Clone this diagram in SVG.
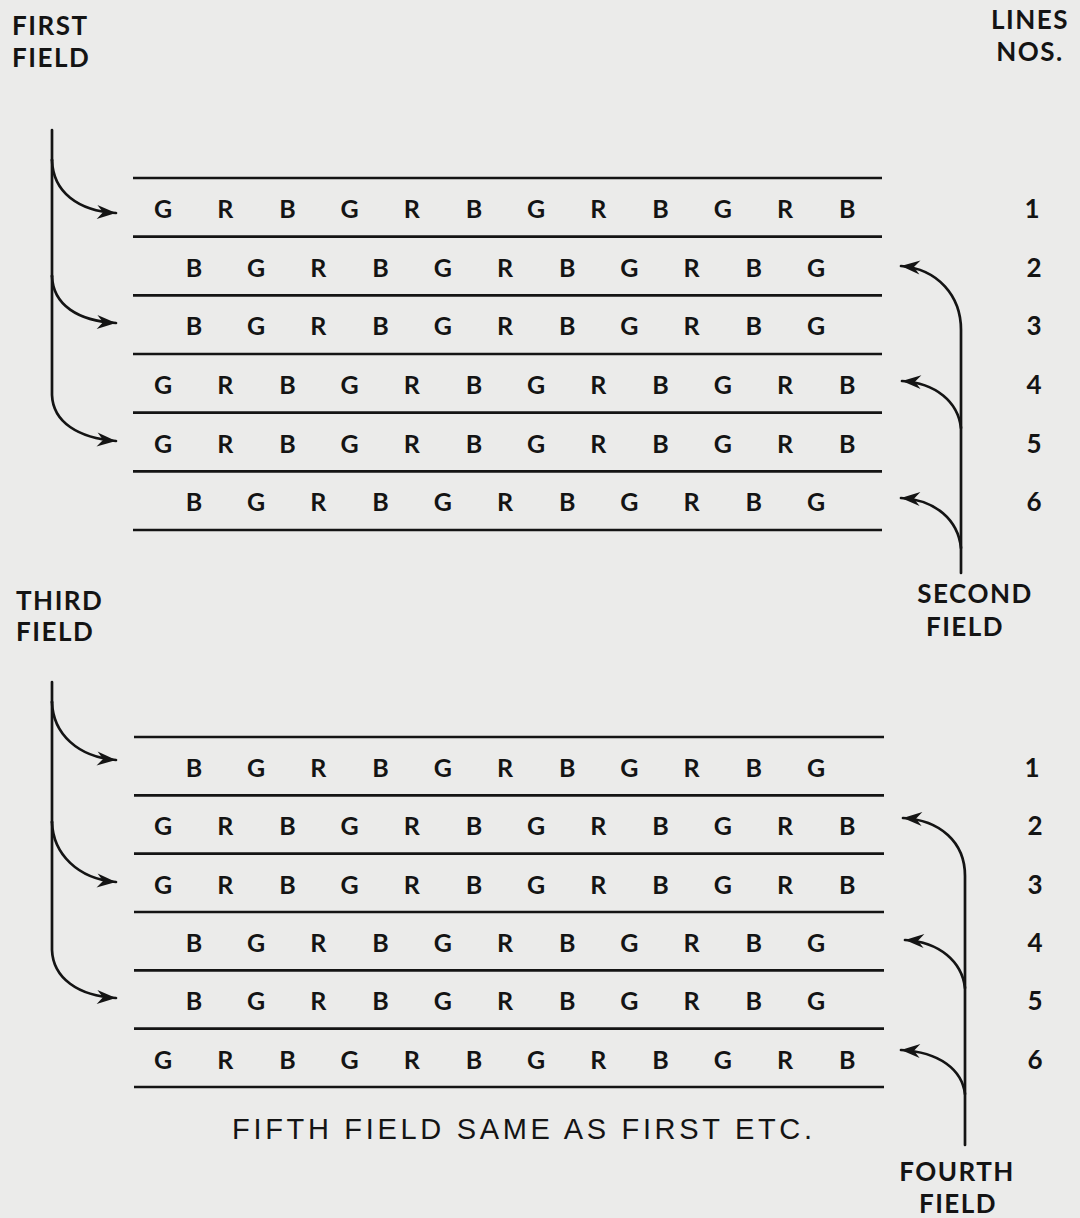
<svg xmlns="http://www.w3.org/2000/svg" width="1080" height="1218" viewBox="0 0 1080 1218">
<style>
.bg{fill:#ebebea}
.rule{stroke:#141414;stroke-width:2.7;fill:none}
.conn{stroke:#141414;stroke-width:2.7;fill:none;stroke-linecap:round}
.letters{font-family:"Lato","DejaVu Sans",sans-serif;font-weight:700;font-size:25px;fill:#141414;text-anchor:middle}
.num{font-family:"Lato","DejaVu Sans",sans-serif;font-weight:700;font-size:26px;fill:#141414;text-anchor:middle}
.lab{font-family:"Lato","DejaVu Sans",sans-serif;font-weight:700;font-size:26px;fill:#141414;letter-spacing:1.5px}
.labc{text-anchor:middle}
.foot{font-family:"Liberation Sans","Arial",sans-serif;font-size:29px;fill:#141414;text-anchor:middle}
</style>
<defs>
<marker id="ah" markerUnits="userSpaceOnUse" markerWidth="22" markerHeight="18" refX="19" refY="8" orient="auto" overflow="visible">
<path d="M0,1 L19,8 L0,15 L6,8 Z" fill="#141414"/>
</marker>
</defs>
<rect class="bg" x="0" y="0" width="1080" height="1218"/>

<g id="label-first-field"><text class="lab" x="12" y="35">FIRST</text><text class="lab" x="12" y="67">FIELD</text></g>
<g id="label-lines-nos"><text class="lab labc" x="1030" y="29">LINES</text><text class="lab labc" x="1030" y="61">NOS.</text></g>
<g id="label-third-field"><text class="lab" x="16" y="610">THIRD</text><text class="lab" x="16" y="641">FIELD</text></g>
<g id="label-second-field"><text class="lab labc" x="975" y="603">SECOND</text><text class="lab labc" x="965" y="636">FIELD</text></g>
<g id="label-fourth-field"><text class="lab labc" x="957" y="1181">FOURTH</text><text class="lab labc" x="958" y="1213">FIELD</text></g>

<g id="top-block">
<g id="top-rules">
<line class="rule" x1="133" y1="178" x2="882" y2="178"/>
<line class="rule" x1="133" y1="236.7" x2="882" y2="236.7"/>
<line class="rule" x1="133" y1="295.3" x2="882" y2="295.3"/>
<line class="rule" x1="133" y1="354" x2="882" y2="354"/>
<line class="rule" x1="133" y1="412.7" x2="882" y2="412.7"/>
<line class="rule" x1="133" y1="471.3" x2="882" y2="471.3"/>
<line class="rule" x1="133" y1="530" x2="882" y2="530"/>
</g>
<g id="top-row-1"><text class="letters" x="163 225.2 287.4 349.6 411.8 474 536.2 598.4 660.6 722.8 785 847.2" y="218">GRBGRBGRBGRB</text><text class="num" x="1032" y="218">1</text></g>
<g id="top-row-2"><text class="letters" x="194 256.2 318.4 380.6 442.8 505 567.2 629.4 691.6 753.8 816" y="276.7">BGRBGRBGRBG</text><text class="num" x="1034" y="276.7">2</text></g>
<g id="top-row-3"><text class="letters" x="194 256.2 318.4 380.6 442.8 505 567.2 629.4 691.6 753.8 816" y="335.4">BGRBGRBGRBG</text><text class="num" x="1034" y="335.4">3</text></g>
<g id="top-row-4"><text class="letters" x="163 225.2 287.4 349.6 411.8 474 536.2 598.4 660.6 722.8 785 847.2" y="394">GRBGRBGRBGRB</text><text class="num" x="1034" y="394">4</text></g>
<g id="top-row-5"><text class="letters" x="163 225.2 287.4 349.6 411.8 474 536.2 598.4 660.6 722.8 785 847.2" y="452.7">GRBGRBGRBGRB</text><text class="num" x="1034" y="452.7">5</text></g>
<g id="top-row-6"><text class="letters" x="194 256.2 318.4 380.6 442.8 505 567.2 629.4 691.6 753.8 816" y="511.4">BGRBGRBGRBG</text><text class="num" x="1034" y="511.4">6</text></g>
</g>

<g id="bottom-block">
<g id="bottom-rules">
<line class="rule" x1="134" y1="737" x2="884" y2="737"/>
<line class="rule" x1="134" y1="795.3" x2="884" y2="795.3"/>
<line class="rule" x1="134" y1="853.7" x2="884" y2="853.7"/>
<line class="rule" x1="134" y1="912" x2="884" y2="912"/>
<line class="rule" x1="134" y1="970.3" x2="884" y2="970.3"/>
<line class="rule" x1="134" y1="1028.7" x2="884" y2="1028.7"/>
<line class="rule" x1="134" y1="1087" x2="884" y2="1087"/>
</g>
<g id="bottom-row-1"><text class="letters" x="194 256.2 318.4 380.6 442.8 505 567.2 629.4 691.6 753.8 816" y="776.9">BGRBGRBGRBG</text><text class="num" x="1032" y="776.9">1</text></g>
<g id="bottom-row-2"><text class="letters" x="163 225.2 287.4 349.6 411.8 474 536.2 598.4 660.6 722.8 785 847.2" y="835.2">GRBGRBGRBGRB</text><text class="num" x="1035" y="835.2">2</text></g>
<g id="bottom-row-3"><text class="letters" x="163 225.2 287.4 349.6 411.8 474 536.2 598.4 660.6 722.8 785 847.2" y="893.5">GRBGRBGRBGRB</text><text class="num" x="1035" y="893.5">3</text></g>
<g id="bottom-row-4"><text class="letters" x="194 256.2 318.4 380.6 442.8 505 567.2 629.4 691.6 753.8 816" y="951.9">BGRBGRBGRBG</text><text class="num" x="1035" y="951.9">4</text></g>
<g id="bottom-row-5"><text class="letters" x="194 256.2 318.4 380.6 442.8 505 567.2 629.4 691.6 753.8 816" y="1010.2">BGRBGRBGRBG</text><text class="num" x="1035" y="1010.2">5</text></g>
<g id="bottom-row-6"><text class="letters" x="163 225.2 287.4 349.6 411.8 474 536.2 598.4 660.6 722.8 785 847.2" y="1068.5">GRBGRBGRBGRB</text><text class="num" x="1035" y="1068.5">6</text></g>
</g>

<g id="label-fifth-field"><text class="foot" x="522" y="1139" textLength="580" lengthAdjust="spacing">FIFTH FIELD SAME AS FIRST ETC.</text></g>

<g id="connectors">
<!-- first field -->
<path class="conn" d="M52,130 V160"/>
<path class="conn" d="M52,160 C53,192 78,211 116,213" marker-end="url(#ah)"/>
<path class="conn" d="M52,160 V276"/>
<path class="conn" d="M52,276 C53,305 78,321 116,323" marker-end="url(#ah)"/>
<path class="conn" d="M52,276 V395 C53,422 78,438 116,441" marker-end="url(#ah)"/>
<!-- second field -->
<path class="conn" d="M961,573 V330 C961,296 938,269 901,266" marker-end="url(#ah)"/>
<path class="conn" d="M961,428 C958,402 936,383 902,381" marker-end="url(#ah)"/>
<path class="conn" d="M961,548 C958,520 936,500 901,498" marker-end="url(#ah)"/>
<!-- third field -->
<path class="conn" d="M52,682 V702"/>
<path class="conn" d="M52,702 C53,734 78,757 116,760" marker-end="url(#ah)"/>
<path class="conn" d="M52,702 V822"/>
<path class="conn" d="M52,822 C53,854 78,879 116,882" marker-end="url(#ah)"/>
<path class="conn" d="M52,822 V950 C53,978 78,996 116,998" marker-end="url(#ah)"/>
<!-- fourth field -->
<path class="conn" d="M965,1145 V876 C965,842 940,820 903,818" marker-end="url(#ah)"/>
<path class="conn" d="M965,988 C962,962 940,942 905,940" marker-end="url(#ah)"/>
<path class="conn" d="M965,1094 C962,1070 940,1052 901,1050" marker-end="url(#ah)"/>
</g>
</svg>
